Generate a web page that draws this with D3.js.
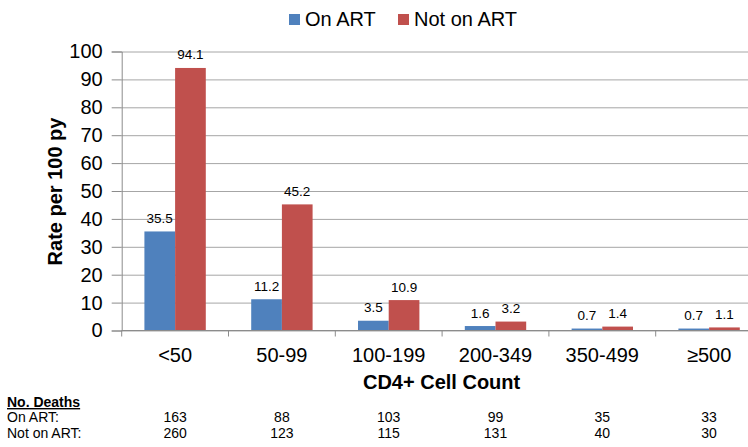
<!DOCTYPE html>
<html>
<head>
<meta charset="utf-8">
<script src="https://cdn.jsdelivr.net/npm/d3@7"></script>
<style>
  body { margin: 0; background: #fff; }
  svg { display: block; font-family: "Liberation Sans", Arial, sans-serif; }
</style>
</head>
<body>
<div id="chart"></div>
<script>
// data
var categories = ["<50", "50-99", "100-199", "200-349", "350-499", "\u2265500"];
var seriesNames = ["On ART", "Not on ART"];
var onArt = [35.5, 11.2, 3.5, 1.6, 0.7, 0.7];
var notOnArt = [94.1, 45.2, 10.9, 3.2, 1.4, 1.1];
var deathsOnArt = [163, 88, 103, 99, 35, 33];
var deathsNotOnArt = [260, 123, 115, 131, 40, 30];
var yTicks = [0, 10, 20, 30, 40, 50, 60, 70, 80, 90, 100];
var colors = ["#4f81bd", "#c0504d"];

var width = 748, height = 447;
var plotLeft = 121.7, plotRight = 762.5, plotTop = 51.5, plotBottom = 330.5;

var svg = d3.select("#chart").append("svg").attr("width", width).attr("height", height);

var x = d3.scaleBand().domain(categories).range([plotLeft, plotRight]).padding(0);
var xs = d3.scaleBand().domain(seriesNames).range([0, x.bandwidth()]).paddingInner(0).paddingOuter(0.74);
var y = d3.scaleLinear().domain([0, 100]).range([plotBottom, plotTop]);

// gridlines
var grid = svg.append("g").attr("transform", "translate(" + plotLeft + ",0)")
  .call(d3.axisLeft(y).tickValues(yTicks).tickSize(-(plotRight - plotLeft)).tickFormat(""));
grid.select(".domain").remove();
grid.selectAll("line").attr("stroke", "#a6a6a6").attr("stroke-width", 1);

// y axis
var yaxis = svg.append("g").attr("transform", "translate(" + plotLeft + ",0)")
  .call(d3.axisLeft(y).tickValues(yTicks).tickSize(10).tickPadding(9));
yaxis.select(".domain").attr("stroke", "#8c8c8c");
yaxis.selectAll("line").attr("stroke", "#8c8c8c");
yaxis.selectAll("text").attr("font-size", 20).attr("fill", "#000")
  .attr("font-family", "Liberation Sans, Arial, sans-serif");

// bars
var rows = categories.map(function(c, i) {
  return { cat: c, values: [onArt[i], notOnArt[i]] };
});
var groups = svg.append("g").selectAll("g").data(rows).join("g")
  .attr("transform", function(d) { return "translate(" + x(d.cat) + ",0)"; });

groups.selectAll("rect").data(function(d) {
  return d.values.map(function(v, j) { return { s: seriesNames[j], v: v, j: j }; });
}).join("rect")
  .attr("x", function(d) { return xs(d.s); })
  .attr("width", xs.bandwidth())
  .attr("y", function(d) { return y(d.v); })
  .attr("height", function(d) { return plotBottom - y(d.v); })
  .attr("fill", function(d) { return colors[d.j]; });

groups.selectAll("text.val").data(function(d) {
  return d.values.map(function(v, j) { return { s: seriesNames[j], v: v, j: j }; });
}).join("text")
  .attr("class", "val")
  .attr("x", function(d) { return xs(d.s) + xs.bandwidth() / 2; })
  .attr("y", function(d) { return y(d.v) - 8.5; })
  .attr("text-anchor", "middle")
  .attr("font-size", 13.5)
  .attr("fill", "#000")
  .text(function(d) { return d.v.toFixed(1); });

// x axis line
svg.append("line").attr("x1", plotLeft).attr("x2", plotRight).attr("y1", plotBottom).attr("y2", plotBottom)
  .attr("stroke", "#8c8c8c");
// boundary ticks
var bounds = categories.map(function(c) { return x(c); }).concat([x(categories[categories.length - 1]) + x.bandwidth()]);
svg.append("g").selectAll("line").data(bounds).join("line")
  .attr("x1", function(d) { return d; }).attr("x2", function(d) { return d; })
  .attr("y1", plotBottom).attr("y2", plotBottom + 6)
  .attr("stroke", "#8c8c8c");

// x labels
var xaxis = svg.append("g").attr("transform", "translate(0," + plotBottom + ")")
  .call(d3.axisBottom(x).tickSize(0).tickPadding(17));
xaxis.select(".domain").remove();
xaxis.selectAll("text").attr("font-size", 20).attr("fill", "#000")
  .attr("font-family", "Liberation Sans, Arial, sans-serif");

// axis titles
svg.append("text").attr("x", (plotLeft + plotRight) / 2 - 0.5).attr("y", 389)
  .attr("text-anchor", "middle").attr("font-size", 20).attr("font-weight", "bold")
  .text("CD4+ Cell Count");
svg.append("text").attr("transform", "translate(61.5,191.5) rotate(-90)")
  .attr("text-anchor", "middle").attr("font-size", 20).attr("font-weight", "bold")
  .text("Rate per 100 py");

// legend
var legendX = [289, 398];
var legend = svg.append("g").selectAll("g").data(seriesNames).join("g")
  .attr("transform", function(d, i) { return "translate(" + legendX[i] + ",0)"; });
legend.append("rect").attr("x", 0).attr("y", 14).attr("width", 11).attr("height", 11)
  .attr("fill", function(d, i) { return colors[i]; });
legend.append("text").attr("x", 16).attr("y", 26).attr("font-size", 20)
  .text(function(d) { return d; });

// deaths table
svg.append("text").attr("x", 7).attr("y", 407).attr("font-size", 14).attr("font-weight", "bold")
  .attr("text-decoration", "underline").text("No. Deaths");
var tableRows = [["On ART:", deathsOnArt, 422], ["Not on ART:", deathsNotOnArt, 437.5]];
tableRows.forEach(function(r) {
  svg.append("text").attr("x", 7).attr("y", r[2]).attr("font-size", 14).text(r[0]);
  svg.append("g").selectAll("text").data(r[1]).join("text")
    .attr("x", function(d, i) { return x(categories[i]) + x.bandwidth() / 2; })
    .attr("y", r[2])
    .attr("text-anchor", "middle")
    .attr("font-size", 14)
    .text(function(d) { return d; });
});
</script>
</body>
</html>
